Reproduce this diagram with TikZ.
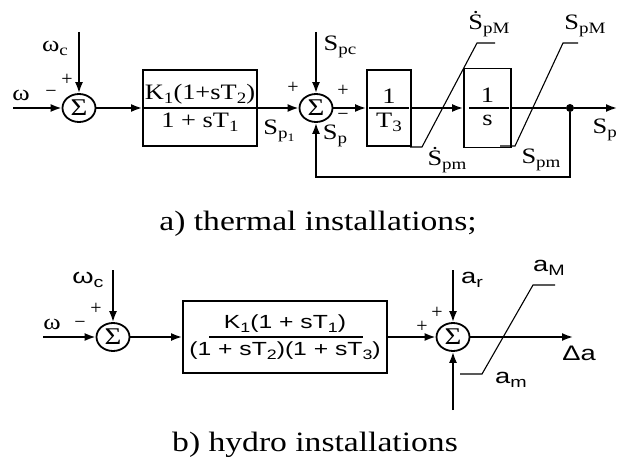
\documentclass[tikz,border=0pt]{standalone}
\usepackage{fontspec}
\setmainfont{Liberation Serif}
\newfontfamily\thermfont[FakeStretch=1.2]{Liberation Serif}
\newfontfamily\hydrofont[FakeStretch=1.3]{Liberation Sans}
\newfontfamily\capfont[FakeStretch=1.2]{Liberation Serif}
\usetikzlibrary{arrows.meta,positioning,shapes.geometric,calc}
\newcommand{\lowidx}[1]{\raisebox{-0.4ex}{\scalebox{0.72}{#1}}}

\begin{document}
\begin{tikzpicture}[x=1pt, y=-1pt,
    box/.style={rectangle, draw, line width=1.9pt, inner sep=0pt},
    sumnode/.style={ellipse, draw, line width=1.8pt, minimum width=33pt, minimum height=28pt, inner sep=0pt, font=\thermfont\fontsize{24}{24}\selectfont},
    arrow/.style={-{Latex[length=11pt,width=8pt]}, line width=1.8pt},
    wire/.style={line width=1.8pt},
    limiter/.style={line width=1.1pt},
    tlabel/.style={font=\thermfont\fontsize{22}{24}\selectfont, inner sep=0pt},
    tbox/.style={font=\thermfont\fontsize{22}{24}\selectfont, inner sep=0pt},
    hlabel/.style={font=\hydrofont\fontsize{21}{23}\selectfont, inner sep=0pt},
    hbox/.style={font=\hydrofont\fontsize{19}{21}\selectfont, inner sep=0pt},
    signlbl/.style={font=\fontsize{20}{20}\selectfont, inner sep=0pt}
]
\useasboundingbox (0,0) rectangle (617,462);

% a) thermal installations
\node[sumnode] (sumA1) at (79,108) {Σ};
\node[box, minimum width=114pt, minimum height=76pt] (boxA1) at (200,108) {};
\node[tbox, above=4pt] (numA1) at (boxA1.center) {K\lowidx{1}(1+sT\lowidx{2})};
\node[tbox, below=5pt] (denA1) at (boxA1.center) {1 + sT\lowidx{1}};
\node[sumnode] (sumA2) at (316,108) {Σ};
\node[box, minimum width=44pt, minimum height=76pt] (boxA2) at (389,108) {};
\node[tbox, above=4pt] (numA2) at (boxA2.center) {1};
\node[tbox, below=5pt] (denA2) at (boxA2.center) {T\lowidx{3}};
\node[box, minimum width=47pt, minimum height=79pt] (boxA3) at (487.5,108) {};
\node[tbox, above=5pt] (numA3) at (boxA3.center) {1};
\node[tbox, below=7pt] (denA3) at (boxA3.center) {s};
\node[circle, fill, inner sep=0pt, minimum size=8pt] (dotA) at (570,108) {};

\coordinate (inA) at (13,108);
\coordinate (wcA) at (79,32);
\coordinate (spcA) at (316,32);
\coordinate (outA) at (617,108);
\coordinate (fbA) at (316,177);

\draw[wire] ([xshift=2pt]boxA1.west) -- ([xshift=-2pt]boxA1.east);
\draw[wire] ([xshift=3pt]boxA2.west) -- ([xshift=-3pt]boxA2.east);
\draw[wire] ([xshift=6pt]boxA3.west) -- ([xshift=-3pt]boxA3.east);

\draw[arrow] (inA) -- (sumA1);
\draw[arrow] (wcA) -- (sumA1);
\draw[arrow] (sumA1) -- (boxA1);
\draw[arrow] (boxA1) -- (sumA2);
\draw[arrow] (spcA) -- (sumA2);
\draw[arrow] (sumA2) -- (boxA2);
\draw[arrow] (boxA2) -- (boxA3);
\draw[wire] (boxA3) -- (dotA);
\draw[arrow] (dotA) -- (outA);
\draw[arrow] (dotA) |- (fbA) -- (sumA2);

\draw[limiter] (410,147) -- (422,147) -- (477,43) -- (495,43);
\draw[limiter] (500,146) -- (515,146) -- (563,43) -- (578,43);

\node[tlabel] (lw) at (21,95) {ω};
\node[signlbl] (mA1) at (51,94) {−};
\node[signlbl] (pA1) at (67,80) {+};
\node[tlabel] (lwc) at (55,48) {ω\lowidx{c}};
\node[tlabel] (lspl) at (279,131) {S\lowidx{p\lowidx{1}}};
\node[signlbl] (pA2l) at (293,88) {+};
\node[tlabel] (lspc) at (340,47) {S\lowidx{pc}};
\node[signlbl] (pA2r) at (343,91) {+};
\node[signlbl] (mA2r) at (343,117) {−};
\node[tlabel] (lsp) at (335,136) {S\lowidx{p}};
\node[tlabel] (ldspM) at (489,24) {\.{S}\lowidx{pM}};
\node[tlabel] (lspM) at (585,26) {S\lowidx{pM}};
\node[tlabel] (ldspm) at (447,160) {\.{S}\lowidx{pm}};
\node[tlabel] (lspm) at (541,160) {S\lowidx{pm}};
\node[tlabel, anchor=east] (lout) at (617,130) {S\lowidx{p}};

\node[font=\capfont\fontsize{28}{30}\selectfont, anchor=base] (capA) at (318,230) {a) thermal installations;};

% b) hydro installations
\node[sumnode] (sumB1) at (113,337) {Σ};
\node[box, minimum width=204pt, minimum height=72pt] (boxB) at (285,337) {};
\node[hbox, above=4pt] (numB) at (boxB.center) {K\lowidx{1}(1 + sT\lowidx{1})};
\node[hbox, below=5pt] (denB) at (boxB.center) {(1 + sT\lowidx{2})(1 + sT\lowidx{3})};
\node[sumnode] (sumB2) at (453,337) {Σ};

\coordinate (inB) at (43,337);
\coordinate (wcB) at (113,270);
\coordinate (arB) at (453,270);
\coordinate (amB) at (453,410);
\coordinate (outB) at (573,337);

\draw[wire] ([xshift=27pt]boxB.west) -- ([xshift=-25pt]boxB.east);

\draw[arrow] (inB) -- (sumB1);
\draw[arrow] (wcB) -- (sumB1);
\draw[arrow] (sumB1) -- (boxB);
\draw[arrow] (boxB) -- (sumB2);
\draw[arrow] (arB) -- (sumB2);
\draw[arrow] (amB) -- (sumB2);
\draw[arrow] (sumB2) -- (outB);

\draw[limiter] (460,374) -- (482,374) -- (533,285) -- (555,285);

\node[tlabel] (lwB) at (52,324) {ω};
\node[signlbl] (mB1) at (80,325) {−};
\node[signlbl] (pB1) at (96,309) {+};
\node[hlabel] (lwcB) at (88,280) {ω\lowidx{c}};
\node[signlbl] (pB2t) at (437,313) {+};
\node[signlbl] (pB2l) at (422,327) {+};
\node[hlabel] (lar) at (472,280) {a\lowidx{r}};
\node[hlabel] (laM) at (549,268) {a\lowidx{M}};
\node[hlabel] (lam) at (511,380) {a\lowidx{m}};
\node[hlabel] (lda) at (579,353) {Δa};

\node[font=\capfont\fontsize{28}{30}\selectfont, anchor=base] (capB) at (315,451) {b) hydro installations};
\end{tikzpicture}
\end{document}
